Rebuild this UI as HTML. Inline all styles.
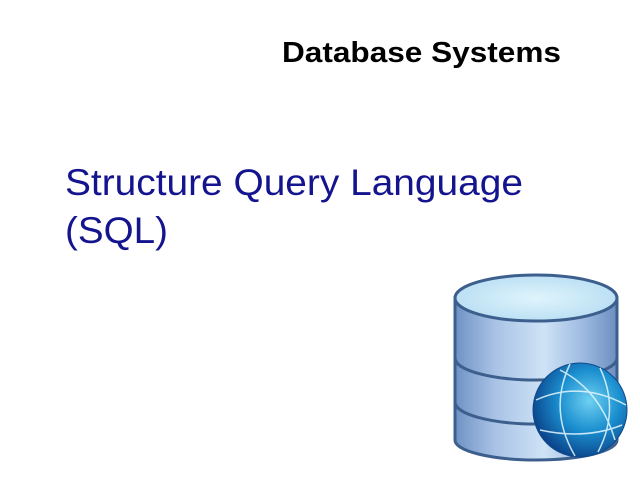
<!DOCTYPE html>
<html><head><style>body{margin:0;background:#fff}svg{display:block}</style></head>
<body>
<svg width="640" height="480" viewBox="0 0 640 480" xmlns="http://www.w3.org/2000/svg">
<defs>
<linearGradient id="body" x1="0" x2="1" y1="0" y2="0">
<stop offset="0" stop-color="#6f92c4"/><stop offset="0.25" stop-color="#a9c3e6"/>
<stop offset="0.55" stop-color="#cfe3f6"/><stop offset="0.8" stop-color="#9ab8df"/>
<stop offset="1" stop-color="#6d8fc0"/></linearGradient>
<radialGradient id="top" cx="0.5" cy="0.5" r="0.6"><stop offset="0" stop-color="#dff4fc"/><stop offset="1" stop-color="#b5dcf2"/></radialGradient>
<radialGradient id="globe" cx="0.6" cy="0.4" r="0.65"><stop offset="0" stop-color="#6fd0f2"/><stop offset="0.5" stop-color="#1b8fcf"/><stop offset="1" stop-color="#0a3f86"/></radialGradient>
</defs>
<text x="282" y="62" font-family="Liberation Sans, sans-serif" font-weight="bold" font-size="29" fill="#000" textLength="279" lengthAdjust="spacingAndGlyphs">Database Systems</text>
<text x="65" y="195" font-family="Liberation Sans, sans-serif" font-size="37" fill="#14148f" textLength="458" lengthAdjust="spacingAndGlyphs">Structure Query Language</text>
<text x="65" y="243" font-family="Liberation Sans, sans-serif" font-size="37" fill="#14148f" textLength="103" lengthAdjust="spacingAndGlyphs">(SQL)</text>
<g stroke="#3d5f8e" stroke-width="3">
<path d="M455 298 L455 440 A81 20 0 0 0 617 440 L617 298 Z" fill="url(#body)"/>
<path d="M455 358 A81 22 0 0 0 617 358" fill="none"/>
<path d="M455 402 A81 22 0 0 0 617 402" fill="none"/>
<ellipse cx="536" cy="298" rx="81" ry="23" fill="url(#top)"/>
</g>
<circle cx="580" cy="410" r="47" fill="url(#globe)" stroke="#0d4a8c" stroke-width="1"/>
<g stroke="#e6f8ff" stroke-width="1.5" fill="none" opacity="0.85">
<path d="M536 400 Q580 380 626 405"/>
<path d="M540 430 Q585 440 622 425"/>
<path d="M570 364 Q548 410 575 456"/>
<path d="M600 368 Q620 410 598 452"/>
<path d="M560 370 Q600 390 615 440"/>
</g>
</svg>
</body></html>
